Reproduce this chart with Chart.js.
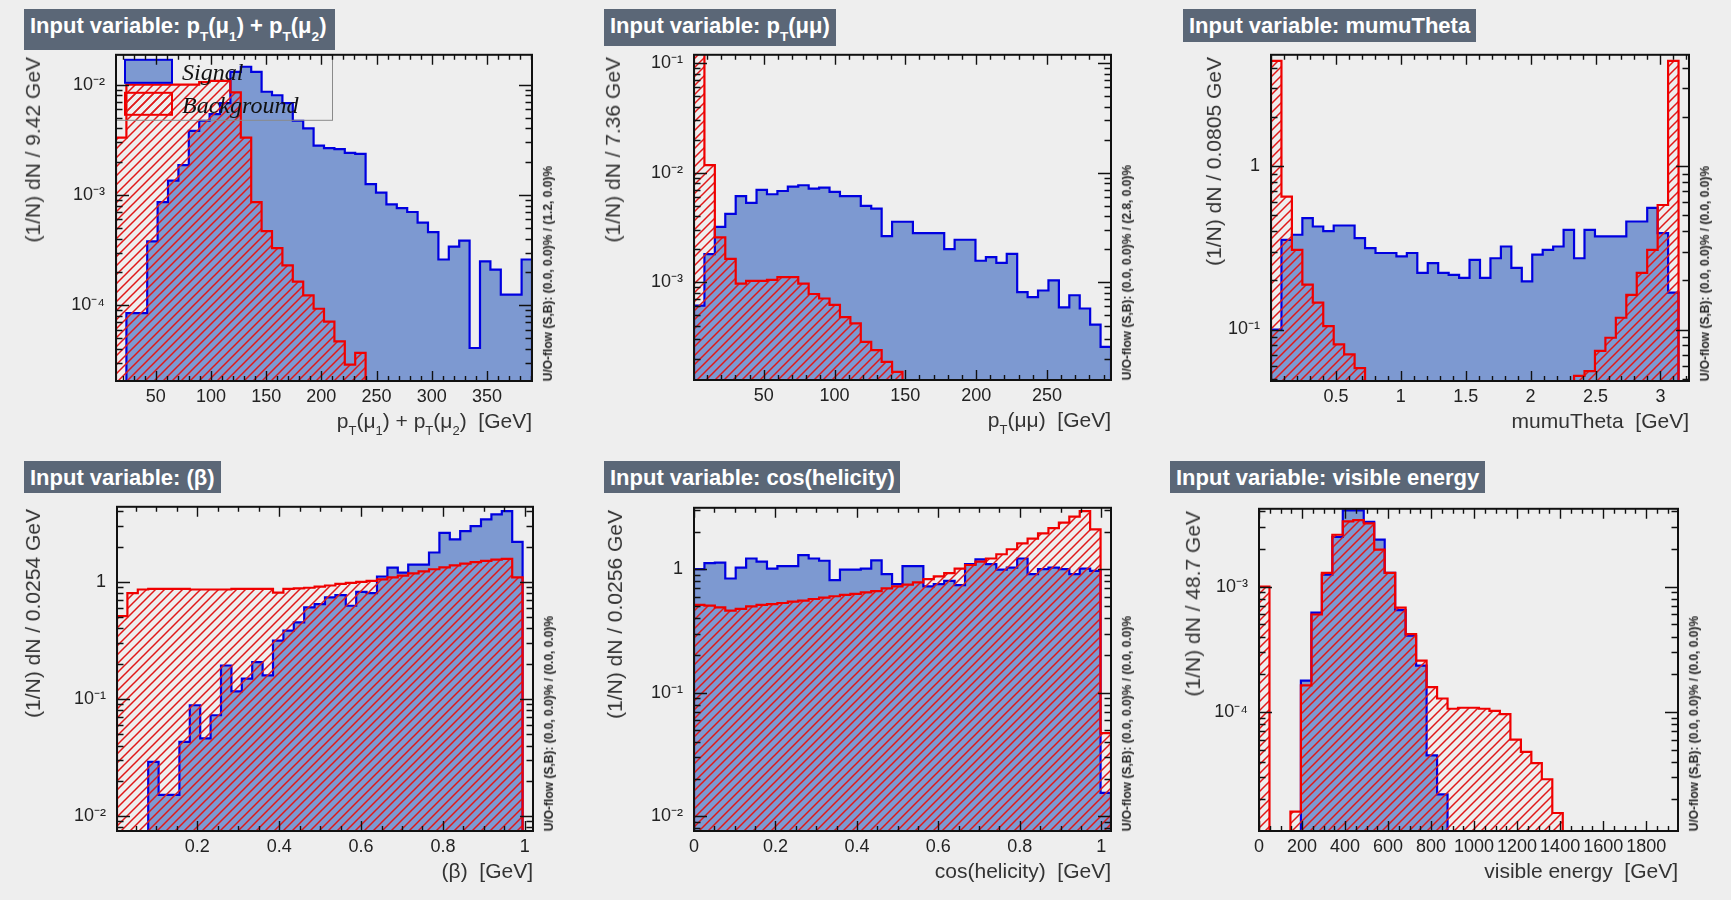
<!DOCTYPE html>
<html><head><meta charset="utf-8">
<script src="https://cdn.jsdelivr.net/npm/chart.js@4"></script>
<style>
html,body{margin:0;padding:0;background:#eeeeee;}
#root{position:relative;width:1731px;height:900px;overflow:hidden;background:#eeeeee;font-family:'Liberation Sans',Arial,Helvetica,sans-serif;}
canvas{position:absolute;}
.tbox{position:absolute;background:#5b6777;color:#fff;font-weight:bold;font-size:22px;line-height:33px;padding-left:6px;box-sizing:border-box;white-space:nowrap;}
.tbox sub,.xt sub{font-size:62%;vertical-align:-0.55em;line-height:0;}
.yt{position:absolute;writing-mode:vertical-rl;transform:rotate(180deg);font-size:21px;line-height:24px;color:#333;white-space:nowrap;}
.rt{position:absolute;writing-mode:vertical-rl;transform:rotate(180deg);font-size:12px;font-weight:bold;line-height:14px;color:#222;white-space:nowrap;}
.xt{position:absolute;font-size:21px;line-height:24px;color:#333;white-space:pre;text-align:right;}
</style></head>
<body><div id="root"></div>
<script>
// ================= DATA =================
// Panel 1: pT(mu1)+pT(mu2)   [first bin edge, bin width]
const ptSumBins = [14.0, 9.42];
const ptSumYRange = [2.06e-5, 1.86e-2];
const ptSumSig = [0, 8.5e-5, 8.5e-5, 3.8e-4, 8.6e-4, 1.35e-3, 1.86e-3, 3.8e-3, 4.7e-3, 5.4e-3,
  6.8e-3, 1.3e-2, 1.45e-2, 1.3e-2, 8.6e-3, 8.0e-3, 6.8e-3, 4.7e-3, 4.0e-3, 2.8e-3,
  2.65e-3, 2.6e-3, 2.4e-3, 2.35e-3, 1.25e-3, 1.05e-3, 8.2e-4, 7.6e-4, 7.0e-4, 5.6e-4,
  4.6e-4, 2.6e-4, 3.4e-4, 3.85e-4, 4.1e-5, 2.5e-4, 2.1e-4, 1.25e-4, 1.25e-4, 2.6e-4];
const ptSumBkg = [3.3e-3, 1.0e-2, 1.0e-2, 1.0e-2, 1.0e-2, 1.0e-2, 1.0e-2, 1.0e-2, 1.05e-2, 1.08e-2,
  1.08e-2, 8.5e-3, 3.3e-3, 8.6e-4, 4.7e-4, 3.3e-4, 2.3e-4, 1.64e-4, 1.23e-4, 9.3e-5,
  7.1e-5, 4.7e-5, 2.9e-5, 3.7e-5, 0, 0, 0, 0, 0, 0,
  0, 0, 0, 0, 0, 0, 0, 0, 0, 0];
const ptSumXTicks = [50, 100, 150, 200, 250, 300, 350];
const ptSumYTicks = [1e-4, 1e-3, 1e-2];
const ptSumYLabels = ['10⁻⁴', '10⁻³', '10⁻²'];

// Panel 2: pT(mumu)
const ptMMBins = [0.8, 7.36];
const ptMMYRange = [1.28e-4, 0.119];
const ptMMSig = [6.1e-4, 1.8e-3, 3.2e-3, 4.2e-3, 6.1e-3, 5.3e-3, 6.95e-3, 6.35e-3, 6.8e-3, 7.46e-3,
  7.67e-3, 7.16e-3, 7.3e-3, 6.67e-3, 6.1e-3, 6.1e-3, 4.97e-3, 4.7e-3, 2.63e-3, 3.56e-3,
  3.56e-3, 2.8e-3, 2.8e-3, 2.8e-3, 2.0e-3, 2.44e-3, 2.44e-3, 1.57e-3, 1.69e-3, 1.5e-3,
  1.81e-3, 8.1e-4, 7.3e-4, 8.4e-4, 1.04e-3, 5.9e-4, 7.6e-4, 5.75e-4, 4.1e-4, 2.57e-4];
const ptMMBkg = [0.15, 1.17e-2, 2.57e-3, 1.63e-3, 9.7e-4, 1.03e-3, 1.03e-3, 1.05e-3, 1.11e-3, 1.11e-3,
  9.7e-4, 7.8e-4, 7.1e-4, 6.2e-4, 4.8e-4, 4.2e-4, 2.85e-4, 2.4e-4, 1.87e-4, 1.52e-4,
  0, 0, 0, 0, 0, 0, 0, 0, 0, 0,
  0, 0, 0, 0, 0, 0, 0, 0, 0, 0];
const ptMMXTicks = [50, 100, 150, 200, 250];
const ptMMYTicks = [1e-3, 1e-2, 1e-1];
const ptMMYLabels = ['10⁻³', '10⁻²', '10⁻¹'];

// Panel 3: mumuTheta
const thetaBins = [0.0, 0.0805];
const thetaYRange = [0.0484, 4.8];
const thetaSig = [0.1, 0.354, 0.38, 0.48, 0.427, 0.40, 0.433, 0.433, 0.362, 0.315,
  0.294, 0.294, 0.28, 0.294, 0.222, 0.255, 0.222, 0.216, 0.207, 0.267,
  0.207, 0.273, 0.322, 0.238, 0.197, 0.287, 0.307, 0.322, 0.407, 0.273,
  0.407, 0.371, 0.371, 0.371, 0.458, 0.458, 0.555, 0.389, 0.168, 0];
const thetaBkg = [4.4, 0.65, 0.307, 0.188, 0.146, 0.105, 0.081, 0.0705, 0.058, 0,
  0, 0, 0, 0, 0, 0, 0, 0, 0, 0,
  0, 0, 0, 0, 0, 0, 0, 0, 0, 0.052,
  0.0557, 0.074, 0.089, 0.118, 0.163, 0.222, 0.307, 0.578, 4.4, 0];
const thetaXTicks = [0.5, 1, 1.5, 2, 2.5, 3];
const thetaYTicks = [0.1, 1];
const thetaYLabels = ['10⁻¹', '1'];

// Panel 4: (beta)
const betaBins = [0.004, 0.0254];
const betaYRange = [7.46e-3, 4.37];
const betaSig = [0, 0, 0, 0.029, 0.0152, 0.0152, 0.043, 0.0884, 0.046, 0.0726,
  0.193, 0.116, 0.149, 0.206, 0.159, 0.315, 0.383, 0.451, 0.605, 0.646,
  0.736, 0.77, 0.625, 0.822, 0.80, 1.11, 1.32, 1.2, 1.4, 1.4,
  1.78, 2.62, 2.3, 2.71, 2.99, 3.41, 3.76, 4.01, 2.19, 0];
const betaBkg = [0.51, 0.80, 0.86, 0.87, 0.87, 0.87, 0.87, 0.86, 0.86, 0.86,
  0.86, 0.87, 0.87, 0.87, 0.87, 0.81, 0.87, 0.88, 0.89, 0.91,
  0.93, 0.96, 0.98, 1.0, 1.02, 1.05, 1.09, 1.13, 1.18, 1.23,
  1.28, 1.33, 1.38, 1.43, 1.47, 1.51, 1.55, 1.57, 1.09, 0];
const betaXTicks = [0.2, 0.4, 0.6, 0.8, 1];
const betaYTicks = [0.01, 0.1, 1];
const betaYLabels = ['10⁻²', '10⁻¹', '1'];

// Panel 5: cos(helicity)
const helBins = [0.0, 0.0256];
const helYRange = [7.57e-3, 3.14];
const helSig = [1.0, 1.12, 1.13, 0.84, 1.03, 1.22, 1.15, 1.01, 1.06, 1.06,
  1.3, 1.22, 1.17, 0.815, 0.99, 0.99, 1.01, 1.18, 0.91, 0.757,
  1.06, 1.06, 0.725, 0.757, 0.805, 0.743, 1.1, 1.2, 1.1, 0.99,
  1.03, 1.22, 0.91, 1.0, 1.03, 1.0, 0.91, 1.01, 0.97, 0.0154];
const helBkg = [0.513, 0.507, 0.49, 0.461, 0.476, 0.5, 0.513, 0.52, 0.532, 0.545,
  0.556, 0.573, 0.588, 0.603, 0.618, 0.63, 0.649, 0.665, 0.70, 0.725,
  0.748, 0.78, 0.83, 0.873, 0.929, 1.01, 1.08, 1.15, 1.22, 1.32,
  1.45, 1.62, 1.77, 1.95, 2.15, 2.38, 2.66, 2.95, 2.1, 0.047];
const helXTicks = [0, 0.2, 0.4, 0.6, 0.8, 1];
const helYTicks = [0.01, 0.1, 1];
const helYLabels = ['10⁻²', '10⁻¹', '1'];

// Panel 6: visible energy
const visBins = [0, 48.7];
const visYRange = [1.12e-5, 4.19e-3];
const visSig = [0, 0, 0, 0, 1.78e-4, 6.2e-4, 1.25e-3, 2.5e-3, 4.07e-3, 4.07e-3,
  3.3e-3, 2.38e-3, 1.29e-3, 6.5e-4, 4.06e-4, 2.34e-4, 4.5e-5, 2.2e-5, 0, 0,
  0, 0, 0, 0, 0, 0, 0, 0, 0, 0,
  0, 0, 0, 0, 0, 0, 0, 0, 0, 0];
const visBkg = [1.0e-3, 0, 0, 1.6e-5, 1.63e-4, 6.0e-4, 1.29e-3, 2.6e-3, 3.32e-3, 3.4e-3,
  3.2e-3, 1.98e-3, 1.29e-3, 6.8e-4, 4.18e-4, 2.57e-4, 1.58e-4, 1.28e-4, 1.06e-4, 1.08e-4,
  1.08e-4, 1.06e-4, 1.02e-4, 9.6e-5, 6.0e-5, 4.8e-5, 3.9e-5, 2.9e-5, 1.56e-5, 0,
  0, 0, 0, 0, 0, 0, 0, 0, 0, 0];
const visXTicks = [0, 200, 400, 600, 800, 1000, 1200, 1400, 1600, 1800];
const visYTicks = [1e-4, 1e-3];
const visYLabels = ['10⁻⁴', '10⁻³'];

// ================= LAYOUT / STYLE =================
const SIG_FILL = '#7d99d1', SIG_LINE = '#0000e0', BKG_LINE = '#f00000', HATCH = '#e01818';
const PAD_L = 100, PAD_T = 20, PAD_R = 20, PAD_B = 50;
Chart.defaults.font.family = "'Liberation Sans', Arial, Helvetica, sans-serif";

const panels = [
  { frame: [116, 53, 532, 381], bins: ptSumBins, yr: ptSumYRange, sig: ptSumSig, bkg: ptSumBkg,
    xt: ptSumXTicks, major: 50, minor: 10, yt: ptSumYTicks, yl: ptSumYLabels, legend: true,
    title: 'Input variable: p<sub>T</sub>(μ<sub>1</sub>) + p<sub>T</sub>(μ<sub>2</sub>)', tbox: [24, 9, 311, 41],
    ytitle: '(1/N) dN / 9.42 GeV', ytx: 33,
    xtitle: 'p<sub>T</sub>(μ<sub>1</sub>) + p<sub>T</sub>(μ<sub>2</sub>)  [GeV]',
    flow: 'U/O-flow (S,B): (0.0, 0.0)% / (1.2, 0.0)%' },
  { frame: [694, 53, 1111, 380], bins: ptMMBins, yr: ptMMYRange, sig: ptMMSig, bkg: ptMMBkg,
    xt: ptMMXTicks, major: 50, minor: 10, yt: ptMMYTicks, yl: ptMMYLabels,
    title: 'Input variable: p<sub>T</sub>(μμ)', tbox: [604, 9, 232, 37],
    ytitle: '(1/N) dN / 7.36 GeV', ytx: 613,
    xtitle: 'p<sub>T</sub>(μμ)  [GeV]',
    flow: 'U/O-flow (S,B): (0.0, 0.0)% / (2.8, 0.0)%' },
  { frame: [1271, 53, 1689, 381], bins: thetaBins, yr: thetaYRange, sig: thetaSig, bkg: thetaBkg,
    xt: thetaXTicks, major: 0.5, minor: 0.1, yt: thetaYTicks, yl: thetaYLabels,
    title: 'Input variable: mumuTheta', tbox: [1183, 9, 293, 33],
    ytitle: '(1/N) dN / 0.0805 GeV', ytx: 1214,
    xtitle: 'mumuTheta  [GeV]',
    flow: 'U/O-flow (S,B): (0.0, 0.0)% / (0.0, 0.0)%' },
  { frame: [117, 505, 533, 831], bins: betaBins, yr: betaYRange, sig: betaSig, bkg: betaBkg,
    xt: betaXTicks, major: 0.2, minor: 0.05, yt: betaYTicks, yl: betaYLabels,
    title: 'Input variable: (β)', tbox: [24, 461, 197, 32],
    ytitle: '(1/N) dN / 0.0254 GeV', ytx: 33,
    xtitle: '(β)  [GeV]',
    flow: 'U/O-flow (S,B): (0.0, 0.0)% / (0.0, 0.0)%' },
  { frame: [694, 506, 1111, 831], bins: helBins, yr: helYRange, sig: helSig, bkg: helBkg,
    xt: helXTicks, major: 0.2, minor: 0.05, yt: helYTicks, yl: helYLabels,
    title: 'Input variable: cos(helicity)', tbox: [604, 461, 296, 32],
    ytitle: '(1/N) dN / 0.0256 GeV', ytx: 615,
    xtitle: 'cos(helicity)  [GeV]',
    flow: 'U/O-flow (S,B): (0.0, 0.0)% / (0.0, 0.0)%' },
  { frame: [1259, 507, 1678, 831], bins: visBins, yr: visYRange, sig: visSig, bkg: visBkg,
    xt: visXTicks, major: 200, minor: 50, yt: visYTicks, yl: visYLabels,
    title: 'Input variable: visible energy', tbox: [1170, 461, 315, 32],
    ytitle: '(1/N) dN / 48.7 GeV', ytx: 1193,
    xtitle: 'visible energy  [GeV]',
    flow: 'U/O-flow (S,B): (0.0, 0.0)% / (0.0, 0.0)%' }
];

const root = document.getElementById('root');

function makeHatch(ctx) {
  const c = document.createElement('canvas');
  c.width = 9; c.height = 9;
  const g = c.getContext('2d');
  g.strokeStyle = HATCH; g.lineWidth = 1.5;
  g.beginPath();
  g.moveTo(-1, 10); g.lineTo(10, -1);
  g.moveTo(-1, 1); g.lineTo(1, -1);
  g.moveTo(8, 10); g.lineTo(10, 8);
  g.stroke();
  return ctx.createPattern(c, 'repeat');
}

function histPoints(bins, vals, yMin) {
  const [start, w] = bins;
  const pts = [{ x: start, y: yMin }];
  vals.forEach((v, i) => pts.push({ x: start + i * w, y: Math.max(v, yMin) }));
  const end = start + vals.length * w;
  pts.push({ x: end, y: Math.max(vals[vals.length - 1], yMin) });
  pts.push({ x: end, y: yMin });
  return pts;
}

const frameTicks = {
  id: 'frameTicks',
  afterDatasetsDraw(chart, args, opts) {
    const { ctx, chartArea: a } = chart;
    const xs = chart.scales.x, ys = chart.scales.y;
    ctx.save();
    if (opts.legend) {
      const L = a.left, T = a.top;
      ctx.strokeStyle = '#8a8a8a'; ctx.lineWidth = 1;
      ctx.strokeRect(L + 0.5, T + 0.5, 216, 65);
      ctx.fillStyle = SIG_FILL; ctx.fillRect(L + 9, T + 5, 47, 23);
      ctx.strokeStyle = SIG_LINE; ctx.lineWidth = 2; ctx.strokeRect(L + 9, T + 5, 47, 23);
      ctx.fillStyle = opts.hatch; ctx.fillRect(L + 9, T + 38, 47, 22);
      ctx.strokeStyle = BKG_LINE; ctx.lineWidth = 2; ctx.strokeRect(L + 9, T + 38, 47, 22);
      ctx.fillStyle = '#111';
      ctx.font = 'italic 24px "Liberation Serif", "DejaVu Serif", serif';
      ctx.textBaseline = 'alphabetic'; ctx.textAlign = 'left';
      ctx.fillText('Signal', L + 66, T + 25);
      ctx.fillText('Background', L + 66, T + 58);
    }
    ctx.strokeStyle = '#111';
    ctx.lineWidth = 1.4;
    ctx.beginPath();
    const i0 = Math.ceil(xs.min / opts.minor - 1e-6), i1 = Math.floor(xs.max / opts.minor + 1e-6);
    for (let i = i0; i <= i1; i++) {
      const v = i * opts.minor;
      const px = Math.round(xs.getPixelForValue(v)) + 0.5;
      const r = v / opts.major;
      const major = Math.abs(r - Math.round(r)) < 1e-6;
      const len = major ? 10 : 5;
      ctx.moveTo(px, a.bottom); ctx.lineTo(px, a.bottom - len);
      ctx.moveTo(px, a.top); ctx.lineTo(px, a.top + len);
    }
    const k0 = Math.floor(Math.log10(ys.min)), k1 = Math.ceil(Math.log10(ys.max));
    for (let k = k0; k <= k1; k++) {
      for (let m = 1; m <= 9; m++) {
        const v = m * Math.pow(10, k);
        if (v < ys.min * 0.9999 || v > ys.max * 1.0001) continue;
        const py = Math.round(ys.getPixelForValue(v)) + 0.5;
        const len = m === 1 ? 13 : 6.5;
        ctx.moveTo(a.left, py); ctx.lineTo(a.left + len, py);
        ctx.moveTo(a.right, py); ctx.lineTo(a.right - len, py);
      }
    }
    ctx.stroke();
    ctx.lineWidth = 2;
    ctx.strokeRect(a.left, a.top, a.right - a.left, a.bottom - a.top);
    ctx.restore();
  }
};

panels.forEach(p => {
  const [l, t, r, b] = p.frame;
  const canvas = document.createElement('canvas');
  canvas.width = (r - l) + PAD_L + PAD_R;
  canvas.height = (b - t) + PAD_T + PAD_B;
  canvas.style.left = (l - PAD_L) + 'px';
  canvas.style.top = (t - PAD_T) + 'px';
  canvas.style.width = canvas.width + 'px';
  canvas.style.height = canvas.height + 'px';
  root.appendChild(canvas);
  const ctx = canvas.getContext('2d');
  const hatch = makeHatch(ctx);
  const xMin = p.bins[0], xMax = p.bins[0] + p.bins[1] * p.sig.length;
  const [yMin, yMax] = p.yr;

  new Chart(ctx, {
    type: 'line',
    data: {
      datasets: [
        { label: 'Background', data: histPoints(p.bins, p.bkg, yMin), stepped: true,
          borderColor: BKG_LINE, borderWidth: 2.2, backgroundColor: hatch, fill: 'start',
          pointRadius: 0, tension: 0, borderJoinStyle: 'miter' },
        { label: 'Signal', data: histPoints(p.bins, p.sig, yMin), stepped: true,
          borderColor: SIG_LINE, borderWidth: 2.2, backgroundColor: SIG_FILL, fill: 'start',
          pointRadius: 0, tension: 0, borderJoinStyle: 'miter' }
      ]
    },
    options: {
      responsive: false, animation: false, devicePixelRatio: 1,
      layout: { padding: { left: 0, top: PAD_T, right: PAD_R, bottom: 0 } },
      events: [],
      plugins: {
        legend: { display: false }, tooltip: { enabled: false },
        frameTicks: { major: p.major, minor: p.minor, legend: !!p.legend, hatch: hatch }
      },
      scales: {
        x: {
          type: 'linear', min: xMin, max: xMax, bounds: 'data',
          grid: { display: false, drawTicks: false }, border: { display: false },
          afterBuildTicks: s => { s.ticks = p.xt.map(v => ({ value: v })); },
          afterFit: s => { s.height = PAD_B; },
          ticks: { autoSkip: false, maxRotation: 0, minRotation: 0, padding: 5,
            color: '#222', font: { size: 18 }, callback: v => String(v) }
        },
        y: {
          type: 'logarithmic', min: yMin, max: yMax, bounds: 'data',
          grid: { display: false, drawTicks: false }, border: { display: false },
          afterBuildTicks: s => { s.ticks = p.yt.map(v => ({ value: v })); },
          afterFit: s => { s.width = PAD_L; },
          ticks: { autoSkip: false, padding: 11, color: '#222', font: { size: 18 },
            callback: (v, i) => p.yl[i] }
        }
      }
    },
    plugins: [frameTicks]
  });

  const tb = document.createElement('div');
  tb.className = 'tbox';
  tb.style.left = p.tbox[0] + 'px'; tb.style.top = p.tbox[1] + 'px';
  tb.style.width = p.tbox[2] + 'px'; tb.style.height = p.tbox[3] + 'px';
  tb.innerHTML = p.title;
  root.appendChild(tb);
  const yt = document.createElement('div');
  yt.className = 'yt';
  yt.style.left = (p.ytx - 12) + 'px'; yt.style.top = (t + 4) + 'px';
  yt.textContent = p.ytitle;
  root.appendChild(yt);
  const xt = document.createElement('div');
  xt.className = 'xt';
  xt.style.right = (1731 - r) + 'px'; xt.style.top = (b + 28) + 'px';
  xt.innerHTML = p.xtitle;
  root.appendChild(xt);
  const rt = document.createElement('div');
  rt.className = 'rt';
  rt.style.left = (r + 16 - 7) + 'px'; rt.style.bottom = (900 - b) + 'px';
  rt.textContent = p.flow;
  root.appendChild(rt);
});
</script></body></html>
